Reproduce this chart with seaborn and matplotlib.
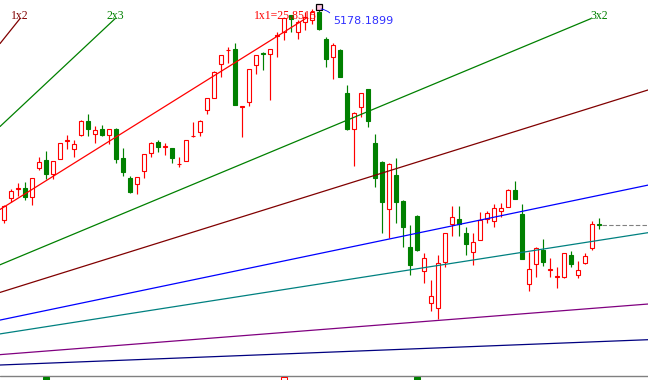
import matplotlib
matplotlib.use('Agg')
import matplotlib.pyplot as plt
import seaborn as sns
import pandas as pd

# Daily candles (Shanghai Composite, spring/summer 2015)
opens = [3925, 4055, 4111, 4114, 4063, 4234, 4280, 4197, 4288, 4395,
         4343, 4426, 4510, 4434, 4461, 4426, 4465, 4290, 4173, 4136,
         4213, 4323, 4386, 4357, 4351, 4254, 4272, 4419, 4445, 4575,
         4648, 4845, 4928, 4934, 4593, 4621, 4840, 4912, 4906, 5013,
         5038, 5137, 5036, 5097, 5107, 5155, 4993, 4887, 4930, 4678,
         4461, 4591, 4698, 4379, 4266, 3988, 4191, 4038, 3764, 3949,
         3626, 3436, 3403, 3679, 3900, 3929, 3847, 3734, 3807, 3929,
         3919, 3978, 4000, 4103, 3961, 3545, 3663, 3748, 3630, 3588,
         3590, 3718, 3598, 3669, 3762, 3902]
highs = [4014, 4108, 4144, 4150, 4173, 4296, 4333, 4274, 4380, 4426,
         4398, 4516, 4552, 4481, 4487, 4463, 4469, 4351, 4185, 4181,
         4315, 4386, 4398, 4379, 4351, 4299, 4398, 4506, 4516, 4646,
         4808, 4900, 4946, 4973, 4599, 4816, 4900, 4920, 4934, 5038,
         5117, 5137, 5107, 5155, 5172, 5178.19, 5005, 4973, 4934, 4723,
         4564, 4678, 4698, 4432, 4274, 4260, 4290, 4043, 3896, 3955,
         3728, 3571, 3718, 3847, 4008, 4008, 3882, 3847, 3974, 3980,
         4020, 4024, 4108, 4158, 4020, 3736, 3764, 3813, 3701, 3649,
         3732, 3744, 3685, 3732, 3919, 3935]
lows = [3908, 4032, 4067, 4043, 4014, 4221, 4169, 4169, 4286, 4343,
        4299, 4422, 4422, 4382, 4422, 4374, 4264, 4185, 4087, 4079,
        4172, 4299, 4327, 4308, 4260, 4240, 4272, 4416, 4423, 4550,
        4646, 4769, 4851, 4603, 4418, 4599, 4788, 4812, 4634, 4890,
        4989, 5038, 4995, 5048, 5084, 5048, 4831, 4757, 4770, 4457,
        4246, 4536, 4473, 4119, 3847, 3817, 3906, 3767, 3600, 3742,
        3555, 3389, 3340, 3649, 3831, 3831, 3718, 3659, 3807, 3906,
        3886, 3941, 4000, 4049, 3695, 3507, 3587, 3653, 3590, 3522,
        3582, 3649, 3584, 3665, 3748, 3870]
closes = [4008, 4097, 4117, 4061, 4172, 4266, 4197, 4272, 4379, 4401,
          4373, 4510, 4461, 4457, 4426, 4461, 4284, 4211, 4093, 4181,
          4314, 4379, 4358, 4360, 4293, 4258, 4398, 4422, 4510, 4644,
          4798, 4900, 4932, 4607, 4597, 4816, 4899, 4906, 4934, 5017,
          5117, 5111, 5097, 5127, 5155, 5052, 4879, 4958, 4772, 4461,
          4559, 4674, 4512, 4172, 4033, 4256, 4033, 3886, 3659, 3748,
          3699, 3476, 3673, 3847, 3941, 3900, 3782, 3793, 3925, 3965,
          3994, 3998, 4103, 4051, 3695, 3634, 3758, 3679, 3636, 3593,
          3728, 3667, 3630, 3712, 3900, 3898]

peak_bar = 45
peak_label = '5178.1899'

# Gann fan: origin (bar, price) and the 1x1 unit in points per bar
fan_origin_bar = -38.5
fan_origin_price = 3007
fan_unit = 25.85
fan_top = 5116
fan_names = ['1x2', '2x3', '1x1', '3x2', '2x1', '3x1', '4x1', '8x1', '16x1']
fan_ratios = [2, 1.5, 1, 2 / 3, 1 / 2, 1 / 3, 1 / 4, 1 / 8, 1 / 16]
fan_colors = ['#800000', '#008000', '#ff0000', '#008000', '#800000',
              '#0000ff', '#008080', '#800080', '#000080']
fan_labels = {'1x2': '1x2', '2x3': '2x3', '1x1': '1x1=25.8515', '3x2': '3x2'}

# small signal marks under the axis line
signal_bars = [6, 40, 59]
signal_up = [False, True, False]

UP = '#ff0000'
DOWN = '#008000'

sns.set_style('white')
fig = plt.figure(figsize=(6.48, 3.8), dpi=100)
ax = fig.add_axes([0, 0, 1, 1])

x_min, x_max = -0.57, 92.0
y_min, y_max = 2979.7, 5225.5
ax.set_xlim(x_min, x_max)
ax.set_ylim(y_min, y_max)
ax.axis('off')

df = pd.DataFrame({'open': opens, 'high': highs, 'low': lows, 'close': closes})
df['bar'] = range(len(df))
df['up'] = df['close'] >= df['open']
df['color'] = df['up'].map({True: UP, False: DOWN})
df['face'] = df['up'].map({True: 'white', False: DOWN})
df['bottom'] = df[['open', 'close']].min(axis=1)
df['height'] = (df['close'] - df['open']).abs()

ax.vlines(df['bar'], df['low'], df['high'], colors=df['color'], lw=0.85, zorder=1)
ax.bar(df['bar'], df['height'], bottom=df['bottom'], width=0.7,
       color=df['face'], edgecolor=df['color'], linewidth=0.8, zorder=1.5)

# Gann fan lines, cut where they reach the top band
rows = []
ends = {}
for name, r in zip(fan_names, fan_ratios):
    slope = fan_unit * r
    x_end = min(x_max, fan_origin_bar + (fan_top - fan_origin_price) / slope)
    for xb in (x_min, x_end):
        rows.append({'bar': xb, 'price': fan_origin_price + slope * (xb - fan_origin_bar), 'line': name})
    ends[name] = (x_end, fan_origin_price + slope * (x_end - fan_origin_bar))
fan_df = pd.DataFrame(rows)
sns.lineplot(data=fan_df, x='bar', y='price', hue='line', palette=dict(zip(fan_names, fan_colors)),
             hue_order=fan_names, estimator=None, sort=False, legend=False, lw=0.9, zorder=3, ax=ax)

label_dx = {'1x2': 0, '2x3': 0, '1x1': -20, '3x2': 8}
for name, text in fan_labels.items():
    xe, ye = ends[name]
    color = fan_colors[fan_names.index(name)]
    ax.annotate(text, (xe, ye), xytext=(label_dx[name] * 0.72, 0), textcoords='offset points',
                ha='center', va='baseline', color=color, fontsize=8.5, family='Liberation Serif', zorder=4)

# peak marker and its price
ax.plot([peak_bar], [highs[peak_bar] + 6], marker='s', ms=4, mfc='#ffc8e0', mec='black', mew=0.9, zorder=5)
ax.annotate(peak_label, xy=(peak_bar + 0.3, highs[peak_bar] - 6), xytext=(47, 5101),
            ha='left', va='center', color='#3030ff', fontsize=8, family='DejaVu Sans',
            arrowprops=dict(arrowstyle='-', color='#0000ff', lw=0.6, shrinkA=0, shrinkB=0,
                            relpos=(0, 0.9), connectionstyle='arc3,rad=0.25'), zorder=5)

# last price dashed line
ax.hlines(closes[-1], len(closes) - 0.5, x_max, colors='#808080', linestyles=(0, (4, 2)), lw=0.8, zorder=2)

# axis line and the little signal marks below it
base = 3006
ax.axhline(base, color='#808080', lw=1.0, zorder=2)
for b, u in zip(signal_bars, signal_up):
    ax.bar(b, 18, bottom=y_min, width=0.72, color='white' if u else DOWN,
           edgecolor=UP if u else DOWN, linewidth=0.75, zorder=2)

fig.savefig('out.png', dpi=100)
